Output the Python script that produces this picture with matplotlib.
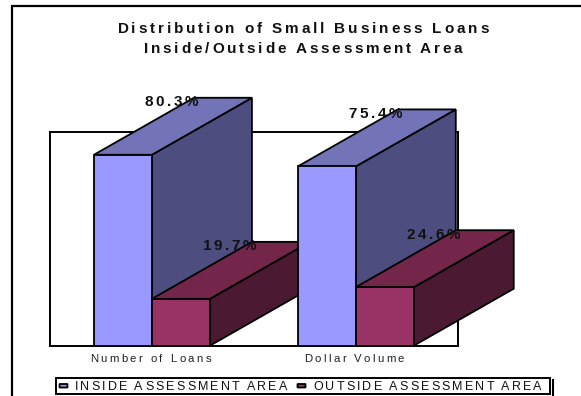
import matplotlib
matplotlib.use("Agg")
import matplotlib.pyplot as plt
from matplotlib.lines import Line2D
from matplotlib.patches import FancyBboxPatch, Polygon, Rectangle
from matplotlib.text import Text
from matplotlib.transforms import Affine2D, Bbox

plt.rcParams["font.family"] = ["Liberation Sans", "DejaVu Sans"]

# Loan shares by measure
categories = ["Number of Loans", "Dollar Volume"]
series_names = ["INSIDE ASSESSMENT AREA", "OUTSIDE ASSESSMENT AREA"]
inside_values = [80.3, 75.4]
outside_values = [19.7, 24.6]
title_lines = ["Distribution of Small Business Loans",
               "Inside/Outside Assessment Area"]

W, H = 581, 396
# Pixel coordinates with the origin at the top-left corner
PX = Affine2D().scale(1, -1).translate(0, H)

BAR_WIDTH = 58 / 204
DEPTH_PX = (100, 57)
PALETTES = [("#9999FF", "#7373B8", "#4D4D7F"),
            ("#993366", "#732649", "#4C1933")]


class TrackedText(Text):
    """Centred single-line text drawn with extra spacing between its letters."""

    def __init__(self, *args, tracking=0.0, **kwargs):
        super().__init__(*args, ha="center", va="center", **kwargs)
        self.tracking = tracking

    def _offsets(self, renderer):
        prop = self.get_fontproperties()
        s = self.get_text()
        width = lambda t: renderer.get_text_width_height_descent(t, prop, False)[0]
        out = [width(s[: i + 1]) - width(s[i]) + i * self.tracking
               for i in range(len(s))]
        return out, width(s) + (len(s) - 1) * self.tracking

    def draw(self, renderer):
        if not self.get_visible():
            return
        offsets, total = self._offsets(renderer)
        x, y = self.get_transform().transform(self.get_unitless_position())
        _, h, d = renderer.get_text_width_height_descent(
            "Hg", self.get_fontproperties(), False)
        x0 = x - total / 2
        y0 = y - h / 2 + d
        if renderer.flipy():
            y0 = renderer.height - y0
        gc = renderer.new_gc()
        gc.set_foreground(self.get_color())
        gc.set_antialiased(True)
        for ch, off in zip(self.get_text(), offsets):
            if ch != " ":
                renderer.draw_text(gc, x0 + off, y0, ch,
                                   self.get_fontproperties(), 0, False)
        gc.restore()

    def get_window_extent(self, renderer=None, dpi=None):
        renderer = renderer or self.get_figure().canvas.get_renderer()
        _, total = self._offsets(renderer)
        x, y = self.get_transform().transform(self.get_unitless_position())
        _, h, _ = renderer.get_text_width_height_descent(
            "Hg", self.get_fontproperties(), False)
        return Bbox.from_extents(x - total / 2, y - h / 2, x + total / 2, y + h / 2)


def spaced(fig, x, y, s, size, tracking, weight="normal", color="#111111"):
    t = TrackedText(x, y, s, tracking=tracking, transform=PX, fontsize=size,
                    fontweight=weight, color=color, figure=fig)
    fig.add_artist(t)
    return t


fig = plt.figure(figsize=(W / 100, H / 100), dpi=100, facecolor="white")

# Plot frame: 0-90 % over two category slots
left, right, top, bottom = 50, 457.7, 131.7, 345.7
ax = fig.add_axes([left / W, 1 - bottom / H, (right - left) / W, (bottom - top) / H])
ax.set_xlim(0, 2)
ax.set_ylim(0, 90)
ax.set_xticks([])
ax.set_yticks([])
for spine in ax.spines.values():
    spine.set_linewidth(1.4)

dx = DEPTH_PX[0] * 2 / (right - left)
dy = DEPTH_PX[1] * 90 / (bottom - top)


def draw_box(x0, value, colors):
    """Front, top and side faces of one extruded bar."""
    x1 = x0 + BAR_WIDTH
    front = [(x0, 0), (x1, 0), (x1, value), (x0, value)]
    roof = [(x0, value), (x1, value), (x1 + dx, value + dy), (x0 + dx, value + dy)]
    side = [(x1, 0), (x1 + dx, dy), (x1 + dx, value + dy), (x1, value)]
    for pts, color in zip((side, roof, front), (colors[2], colors[1], colors[0])):
        ax.add_patch(Polygon(pts, closed=True, facecolor=color, edgecolor="black",
                             linewidth=1.3, joinstyle="miter", clip_on=False, zorder=3))


for i, (a, b) in enumerate(zip(inside_values, outside_values)):
    center = i + 0.5
    draw_box(center - BAR_WIDTH, a, PALETTES[0])
    draw_box(center, b, PALETTES[1])

# Value labels float above the rear of each bar
for i, (a, b) in enumerate(zip(inside_values, outside_values)):
    center = i + 0.5
    for x, v in ((center - BAR_WIDTH / 2, a), (center + BAR_WIDTH / 2, b)):
        px, py = ax.transData.transform((x, v))
        t = TrackedText(px + 48.5, py + 52, f"{v}%", tracking=2.6,
                        fontsize=11, fontweight="bold",
                        color="#111111", figure=fig)
        t.set_transform(Affine2D())
        t.set_zorder(5)
        fig.add_artist(t)

# Category labels under each slot
for i, name in enumerate(categories):
    px, _ = ax.transData.transform((i + 0.5, 0))
    spaced(fig, px - 1.5, 358.5, name, 8.2, 2.43, color="#222222")

# Chart title
spaced(fig, 303, 29.5, title_lines[0], 11, 2.83, weight="bold")
spaced(fig, 303, 49.5, title_lines[1], 11, 2.83, weight="bold")

# Outer border along the top and left edges
fig.add_artist(Line2D([12, 12, W], [H, 6, 6], transform=PX, color="black",
                      linewidth=1.6, solid_joinstyle="miter"))

# Legend: box, drop-shadow stroke, swatches and entries
fig.add_artist(Rectangle((56, 378), 493.7, 15.7, transform=PX, facecolor="white",
                         edgecolor="black", linewidth=1.4))
fig.add_artist(Line2D([552.7, 552.7], [380, H], transform=PX, color="black",
                      linewidth=1.5))
for x0, palette, name, cx in ((60, PALETTES[0], series_names[0], 181),
                              (298, PALETTES[1], series_names[1], 427.5)):
    fig.add_artist(FancyBboxPatch((x0, 384.5), 7, 2.5, boxstyle="round,pad=0.5",
                                  transform=PX, facecolor=palette[0],
                                  edgecolor="black", linewidth=1.3))
    spaced(fig, cx, 386.5, name, 9, 2.2, color="#111111")

fig.savefig("out.png", dpi=100)
